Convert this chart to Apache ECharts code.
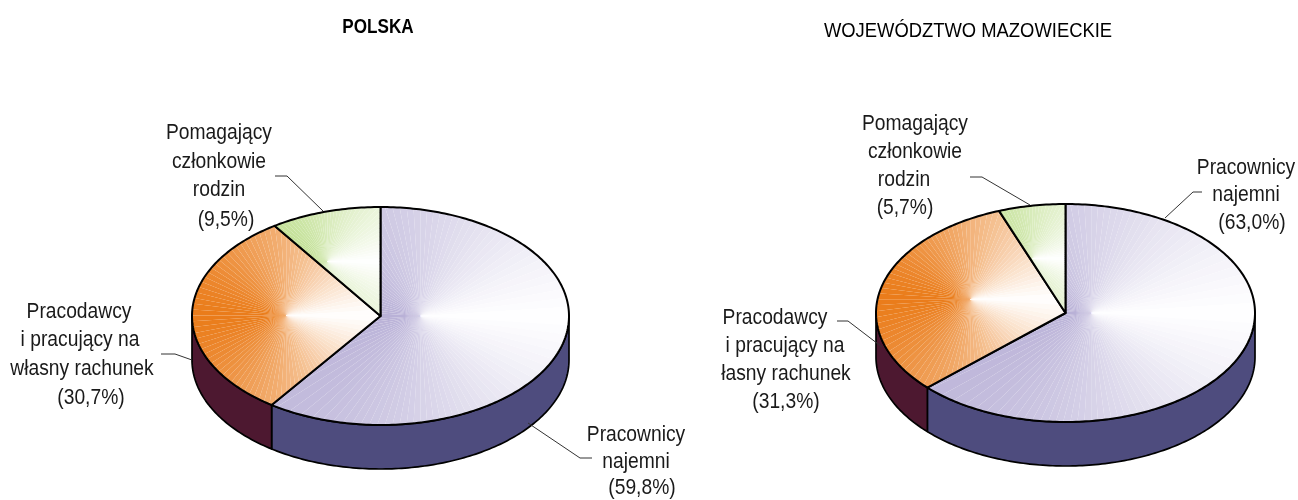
<!DOCTYPE html>
<html><head><meta charset="utf-8">
<style>html,body{margin:0;padding:0;background:#fff}#c{width:1298px;height:500px}</style>
<script src="https://cdn.jsdelivr.net/npm/echarts@6/dist/echarts.min.js"></script>
</head><body><div id="c"></div>
<script>
// ---- data ----
const sliceNames = ['Pracownicy najemni', 'Pracodawcy i pracujący na własny rachunek', 'Pomagający członkowie rodzin'];
const polskaValues = [59.8, 30.7, 9.5];
const mazowieckieValues = [63.0, 31.3, 5.7];
const polskaTitle = 'POLSKA';
const mazowieckieTitle = 'WOJEWÓDZTWO MAZOWIECKIE';
const polskaLabels = [
  ['Pracownicy', 'najemni', '(59,8%)'],
  ['Pracodawcy', 'i pracujący na', 'własny rachunek', '(30,7%)'],
  ['Pomagający', 'członkowie', 'rodzin', '(9,5%)']
];
const mazowieckieLabels = [
  ['Pracownicy', 'najemni', '(63,0%)'],
  ['Pracodawcy', 'i pracujący na', 'łasny rachunek', '(31,3%)'],
  ['Pomagający', 'członkowie', 'rodzin', '(5,7%)']
];

// ---- styling and layout ----
const topColors = [[185, 177, 215], [234, 124, 26], [188, 221, 138]];
const wallColors = ['#4e4c7e', '#4d1830', '#4d6a30'];
const FONT = '"Liberation Sans",sans-serif';
const DEPTH = 44, RAYS = 100;
const pies = [
  {cx: 380.5, cy: 316, rx: 188.5, ry: 109, values: polskaValues},
  {cx: 1065.5, cy: 313, rx: 189.5, ry: 109, values: mazowieckieValues}
];
const labelSpots = [
  [[[636,435],[636,462],[642,488]], [[79,312],[80,340],[82,369],[91,398]], [[219,133],[219,162],[219,190],[226,220]]],
  [[[1246,168],[1246,195],[1252,223]], [[775,318],[785,346],[786,374],[786,402]], [[915,124],[915,152],[904,180],[905,208]]]
];
const leaders = [
  [[592,458],[580,458],[528,423]], [[161,354],[175,354],[192,360]], [[275,176],[287,176],[323,211]],
  [[1202,192],[1193,192],[1165,218]], [[837,321],[848,321],[882,347]], [[970,177],[982,177],[1030,205]]
];

function shade(base, theta) {
  const a = Math.abs(theta) / Math.PI;
  const f = 1 - Math.pow(1 - a, 1.25);
  return 'rgb(' + base.map(c => Math.round(255 + (c - 255) * f)).join(',') + ')';
}

function renderSlice(params, api) {
  const start = api.value(0), end = api.value(1), idx = api.value(2);
  const pt = f => { const a = f * 2 * Math.PI; return api.coord([Math.sin(a), Math.cos(a)]); };
  const STEPS = Math.max(8, Math.ceil((end - start) * 360));
  const arc = [];
  for (let i = 0; i <= STEPS; i++) arc.push(pt(start + (end - start) * i / STEPS));
  const centre = api.coord([0, 0]);
  const wedge = [centre].concat(arc);
  const children = [];

  // side wall: the part of the rim that faces the viewer (clockwise fractions 0.25..0.75)
  const wStart = Math.max(start, 0.25), wEnd = Math.min(end, 0.75);
  if (wEnd > wStart) {
    const upper = [];
    const n = Math.ceil((wEnd - wStart) * 360);
    for (let i = 0; i <= n; i++) upper.push(pt(wStart + (wEnd - wStart) * i / n));
    const lower = upper.map(p => [p[0], p[1] + DEPTH]).reverse();
    children.push({type: 'polygon', shape: {points: upper.concat(lower)},
      style: {fill: wallColors[idx], stroke: '#000', lineWidth: 1.7, lineJoin: 'round'}});
  }

  // top face: colour fan around the middle of the slice's bounding box
  const xs = wedge.map(p => p[0]), ys = wedge.map(p => p[1]);
  const fx = (Math.min.apply(null, xs) + Math.max.apply(null, xs)) / 2;
  const fy = (Math.min.apply(null, ys) + Math.max.apply(null, ys)) / 2;
  const fan = [];
  const R = 600;
  for (let i = 0; i < RAYS; i++) {
    const a0 = -Math.PI + 2 * Math.PI * i / RAYS, a1 = a0 + 2 * Math.PI / RAYS;
    fan.push({type: 'polygon', silent: true,
      shape: {points: [[fx, fy], [fx + R * Math.cos(a0), fy + R * Math.sin(a0)], [fx + R * Math.cos(a1), fy + R * Math.sin(a1)]]},
      style: {fill: shade(topColors[idx], (a0 + a1) / 2), stroke: null}});
  }
  children.push({type: 'group', children: fan, clipPath: {type: 'polygon', shape: {points: wedge}}});
  children.push({type: 'polygon', shape: {points: wedge},
    style: {fill: null, stroke: '#000', lineWidth: 2, lineJoin: 'round'}});
  return {type: 'group', children};
}

function sliceData(values) {
  let acc = 0; const total = values.reduce((a, b) => a + b, 0);
  return values.map((v, i) => { const s = acc / total; acc += v; return {name: sliceNames[i], value: [s, acc / total, i]}; });
}

const texts = [];
[polskaLabels, mazowieckieLabels].forEach((labels, p) => labels.forEach((lines, s) => lines.forEach((line, l) => {
  const spot = labelSpots[p][s][l];
  texts.push({type: 'text', x: spot[0], y: spot[1], scaleX: 0.875, silent: true,
    style: {text: line, font: '22px ' + FONT, fill: '#1a1a1a', align: 'center', verticalAlign: 'middle'}});
})));
texts.push({type: 'text', x: 378, y: 27, scaleX: 0.855, style: {text: polskaTitle, font: 'bold 20px ' + FONT, fill: '#000', align: 'center', verticalAlign: 'middle'}});
texts.push({type: 'text', x: 968, y: 31, scaleX: 0.92, style: {text: mazowieckieTitle, font: '20px ' + FONT, fill: '#000', align: 'center', verticalAlign: 'middle'}});
const lines = leaders.map(pts => ({type: 'polyline', silent: true, z: 10, shape: {points: pts}, style: {stroke: '#333', lineWidth: 1, fill: null}}));

const axis = {type: 'value', min: -1, max: 1, show: false};
const chart = echarts.init(document.getElementById('c'), null, {renderer: 'canvas'});
chart.setOption({
  animation: false,
  backgroundColor: '#fff',
  grid: pies.map(p => ({left: p.cx - p.rx, width: 2 * p.rx, top: p.cy - p.ry, height: 2 * p.ry})),
  xAxis: pies.map((p, i) => Object.assign({gridIndex: i}, axis)),
  yAxis: pies.map((p, i) => Object.assign({gridIndex: i}, axis)),
  graphic: {elements: lines.concat(texts)},
  series: pies.map((p, i) => ({
    type: 'custom', coordinateSystem: 'cartesian2d', xAxisIndex: i, yAxisIndex: i,
    clip: false, silent: true, renderItem: renderSlice,
    encode: {x: [], y: []}, data: sliceData(p.values)
  }))
});
</script></body></html>
